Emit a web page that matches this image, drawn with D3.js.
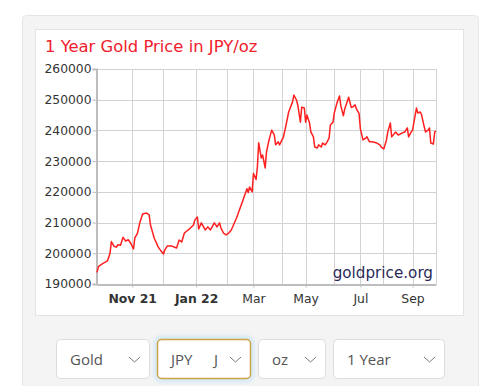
<!DOCTYPE html>
<html>
<head>
<meta charset="utf-8">
<script src="https://cdn.jsdelivr.net/npm/d3@7"></script>
<style>
  html, body { margin: 0; padding: 0; background: #fff; }
  svg { display: block; }
  .grid line { stroke: #d2d2d2; stroke-width: 1; }
  .axis text { font-family: "DejaVu Sans", Verdana, sans-serif; fill: #333; }
  .axis line, .axis .domain { stroke: #bdbdbd; }
  .select-box text { font-family: "Open Sans", sans-serif; font-size: 15px; fill: #555; }
</style>
</head>
<body>
<div id="chart"></div>
<script>
(function () {
  "use strict";

  // trading-day index (0..260) and price in JPY/oz
  const days = [
    0, 1, 2, 5, 8, 10, 11, 13, 15, 16, 18, 20, 22, 24, 26, 28, 29, 31, 33, 35,
    38, 40, 41, 43, 44, 47, 49, 51, 52, 54, 57, 61, 63, 65, 67, 70, 74, 75, 77, 78,
    80, 83, 85, 87, 90, 92, 94, 95, 97, 99, 101, 103, 107, 110, 113, 115, 116, 117, 119, 120,
    122, 123, 124, 126, 127, 129, 130, 132, 134, 136, 137, 139, 140, 143, 145, 147, 150, 151, 153, 154,
    156, 157, 159, 160, 161, 163, 164, 166, 167, 169, 170, 172, 173, 175, 176, 178, 179, 181, 182, 184,
    186, 187, 189, 190, 192, 193, 195, 196, 198, 199, 201, 202, 204, 206, 207, 209, 211, 214, 217, 218,
    220, 222, 223, 225, 226, 229, 231, 234, 236, 238, 239, 241, 242, 245, 246, 248, 249, 251, 252, 254,
    255, 256, 258, 259, 260
  ];
  const prices = [
    193800, 195500, 196000, 196800, 197500, 200000, 203800, 202300, 202000, 202800, 202600, 205200, 204000, 204400, 203200, 201400, 205000, 206500, 210200, 212800,
    213100, 212500, 209200, 206300, 204800, 202000, 200800, 199800, 201100, 202400, 202400, 201700, 204300, 203700, 206600, 207600, 209200, 210800, 211800, 207900,
    209900, 207600, 208600, 207600, 209900, 208600, 209900, 208300, 206600, 206000, 206600, 207600, 211500, 215000, 218600, 221000, 219800, 221600, 220000, 226000,
    224000, 228000, 236000, 231000, 232000, 227800, 233000, 237000, 240100, 238500, 235300, 236300, 235300, 237900, 241800, 246000, 249300, 251500, 249900, 248300,
    242700, 247600, 247300, 242700, 245000, 242400, 239500, 237900, 234600, 234300, 235300, 234600, 235900, 235300, 235900, 237500, 241800, 242700, 245700, 248900,
    251200, 248000, 244800, 247000, 249500, 250800, 247500, 247600, 248300, 247000, 245500, 240500, 236900, 237500, 237900, 236300, 236300, 236000, 235300, 234600,
    234000, 236900, 239500, 242400, 237900, 239500, 238500, 239100, 239500, 240800, 237900, 239500, 240100, 247300, 245700, 246000, 245000, 241100, 239500, 240100,
    240800, 235900, 235600, 239500, 239800
  ];

  // first trading day of each month
  const monthDays = [27, 51, 76, 100, 120, 142, 160, 182, 202, 219, 242];
  const monthLabels = ["Nov 21", "", "Jan 22", "", "Mar", "", "May", "", "Jul", "", "Sep"];
  const yTicks = [190000, 200000, 210000, 220000, 230000, 240000, 250000, 260000];

  const selectLabels = ["Gold", "JPY", "oz", "1 Year"];
  const selectWidths = [94, 94, 68, 112];

  const width = 500;
  const height = 386;
  const plot = { left: 97, right: 436, top: 69, bottom: 284 };

  const svg = d3.select("#chart")
    .append("svg")
    .attr("width", width)
    .attr("height", height);

  // outer grey panel and inner white card
  svg.append("rect")
    .attr("x", 22.5).attr("y", 15.5)
    .attr("width", 456).attr("height", 400)
    .attr("rx", 4)
    .attr("fill", "#f4f4f4")
    .attr("stroke", "#e6e6e6");

  svg.append("rect")
    .attr("x", 35.5).attr("y", 29.5)
    .attr("width", 428).attr("height", 286)
    .attr("fill", "#fff")
    .attr("stroke", "#e3e3e3");

  svg.append("text")
    .attr("x", 45)
    .attr("y", 52)
    .attr("font-family", "'DejaVu Sans', Verdana, sans-serif")
    .attr("font-size", 16.4)
    .attr("fill", "#f0202c")
    .text("1 Year Gold Price in JPY/oz");

  const x = d3.scaleLinear().domain([0, 260]).range([plot.left, plot.right]);
  const y = d3.scaleLinear().domain([190000, 260000]).range([plot.bottom, plot.top]);

  const grid = svg.append("g").attr("class", "grid");

  grid.selectAll("line.h")
    .data(yTicks)
    .join("line")
    .attr("class", "h")
    .attr("x1", plot.left)
    .attr("x2", plot.right)
    .attr("y1", (d) => Math.round(y(d)) + 0.5)
    .attr("y2", (d) => Math.round(y(d)) + 0.5);

  grid.selectAll("line.v")
    .data(monthDays.concat([260]))
    .join("line")
    .attr("class", "v")
    .attr("x1", (d) => Math.round(x(d)) + 0.5)
    .attr("x2", (d) => Math.round(x(d)) + 0.5)
    .attr("y1", plot.top)
    .attr("y2", plot.bottom);

  svg.append("g")
    .attr("class", "axis")
    .attr("transform", `translate(${plot.left - 0.5},0)`)
    .call(d3.axisLeft(y).tickValues(yTicks).tickFormat(d3.format("d")).tickSize(4).tickPadding(1))
    .call((g) => g.select(".domain").attr("stroke-width", 2))
    .call((g) => g.selectAll("text").attr("font-size", 12.3));

  const labelled = monthDays.filter((_, i) => monthLabels[i]);
  const labelOf = new Map(monthDays.map((d, i) => [d, monthLabels[i]]));

  svg.append("g")
    .attr("class", "axis")
    .attr("transform", `translate(0,${plot.bottom + 0.5})`)
    .call(d3.axisBottom(x).tickValues(labelled).tickFormat((d) => labelOf.get(d)).tickSize(3).tickPadding(7).tickSizeOuter(0))
    .call((g) => g.select(".domain").attr("stroke-width", 2))
    .call((g) => g.selectAll("text")
      .attr("font-size", 12.4)
      .attr("font-weight", (d) => (labelOf.get(d).includes(" ") ? "bold" : "normal")));

  svg.append("text")
    .attr("x", 433)
    .attr("y", 278)
    .attr("text-anchor", "end")
    .attr("font-family", "'DejaVu Sans', Verdana, sans-serif")
    .attr("font-size", 15.2)
    .attr("fill", "#2a2a58")
    .text("goldprice.org");

  const points = days.map((d, i) => [d, prices[i]]);
  svg.append("path")
    .datum(points)
    .attr("fill", "none")
    .attr("stroke", "#ff1f1f")
    .attr("stroke-width", 1.5)
    .attr("stroke-linejoin", "round")
    .attr("d", d3.line().x((p) => x(p[0])).y((p) => y(p[1])));

  // dropdown row
  const defs = svg.append("defs");
  const glow = defs.append("filter").attr("id", "glow").attr("x", "-20%").attr("y", "-30%").attr("width", "140%").attr("height", "160%");
  glow.append("feGaussianBlur").attr("stdDeviation", 2);

  const gap = 7;
  let offset = 56;
  const boxes = selectLabels.map((label, i) => {
    const b = { label, x: offset, w: selectWidths[i], focus: i === 1 };
    offset += selectWidths[i] + gap;
    return b;
  });

  const sel = svg.selectAll("g.select-box")
    .data(boxes)
    .join("g")
    .attr("class", "select-box")
    .attr("transform", (b) => `translate(${b.x},339)`);

  sel.filter((b) => b.focus)
    .append("rect")
    .attr("x", -1).attr("y", -1)
    .attr("width", (b) => b.w + 2).attr("height", 42)
    .attr("rx", 5)
    .attr("fill", "none")
    .attr("stroke", "#bfe0f5")
    .attr("stroke-width", 3)
    .attr("filter", "url(#glow)");

  sel.append("rect")
    .attr("x", 0.5).attr("y", 0.5)
    .attr("width", (b) => b.w - 1).attr("height", 39)
    .attr("rx", 4)
    .attr("fill", "#fff")
    .attr("stroke", (b) => (b.focus ? "#c9a345" : "#dcdcdc"))
    .attr("stroke-width", (b) => (b.focus ? 1.5 : 1));

  sel.append("text")
    .attr("x", 14)
    .attr("y", 26)
    .text((b) => b.label);

  sel.filter((b) => b.focus)
    .append("text")
    .attr("x", 57)
    .attr("y", 26)
    .text("J");

  sel.append("path")
    .attr("d", (b) => `M${b.w - 21},18 L${b.w - 15.5},23 L${b.w - 10},18`)
    .attr("fill", "none")
    .attr("stroke", "#777")
    .attr("stroke-width", 1);
})();
</script>
</body>
</html>
